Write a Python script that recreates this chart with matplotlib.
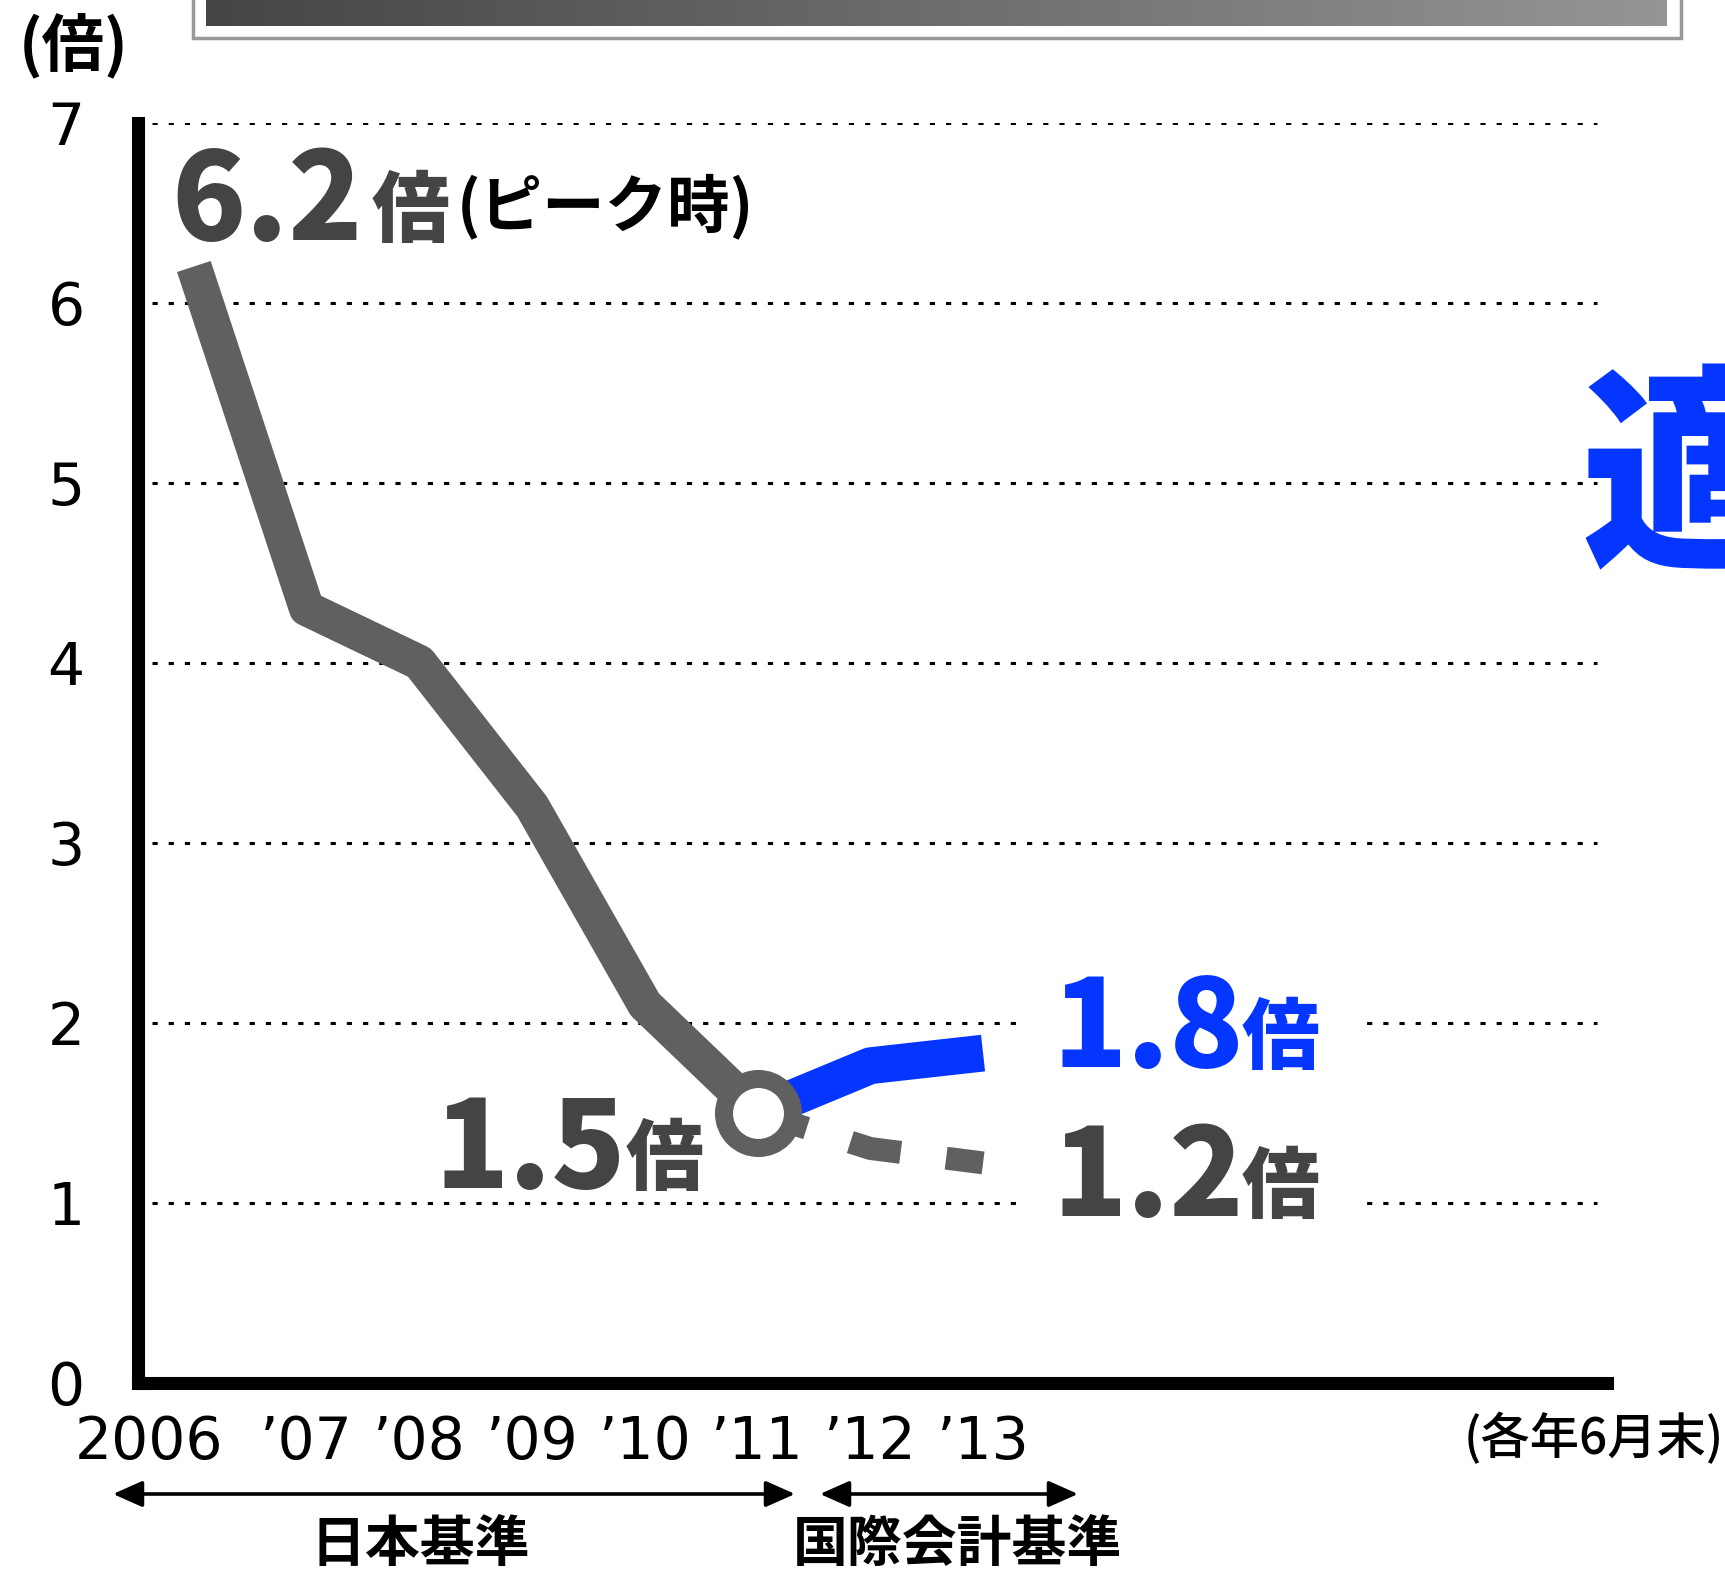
import numpy as np
import matplotlib
matplotlib.use("Agg")
import matplotlib.pyplot as plt
from matplotlib.patches import Rectangle, FancyArrowPatch
from matplotlib.colors import LinearSegmentedColormap

plt.rcParams['font.family'] = ['Noto Sans CJK JP', 'DejaVu Sans']

# data
years = ['2006', '’07', '’08', '’09', '’10', '’11', '’12', '’13']
jp_x = [0, 1, 2, 3, 4, 5]
jp_vals = [6.2, 4.3, 4.0, 3.2, 2.1, 1.5]          # 日本基準
ifrs_x = [5, 6, 7]
ifrs_vals = [1.5, 1.76, 1.83]                       # 国際会計基準
jp_cont_vals = [1.5, 1.3, 1.22]                     # 日本基準で続けた場合
yticks = [0, 1, 2, 3, 4, 5, 6, 7]

GRAY = '#606060'
DARK = '#444444'
BLUE = '#0536FF'

W, H = 1725, 1575
fig = plt.figure(figsize=(W / 100, H / 100), dpi=100)

def fx(px):
    return px / W

def fy(py):
    return 1 - py / H

ax = fig.add_axes([fx(137.5), fy(1382.5), (1606.5 - 137.5) / W, (1382.5 - 122.5) / H])
ax.set_xlim(-0.5, 12.53)
ax.set_ylim(0, 7)

for side in ['top', 'right']:
    ax.spines[side].set_visible(False)
for side in ['left', 'bottom']:
    ax.spines[side].set_linewidth(9.4)
    ax.spines[side].set_color('black')
    ax.spines[side].set_capstyle('projecting')

# dotted grid
ax.hlines(yticks[1:], -0.375, 12.45, colors='black', linewidth=2.2,
          linestyles=[(0, (1.7, 3.6))], zorder=1)
# gap in the grid behind the end labels
ax.add_patch(Rectangle((7.35, 0.85), 3.03, 1.3, facecolor='white',
                       edgecolor='none', zorder=1.5))

# lines
ax.plot(jp_x, jp_vals, color=GRAY, lw=25.5, solid_joinstyle='round',
        solid_capstyle='butt', zorder=3)
ax.plot(ifrs_x, jp_cont_vals, color=GRAY, lw=16.5, linestyle=(0, (2.25, 2.0)),
        dash_capstyle='butt', zorder=3)
ax.plot(ifrs_x, ifrs_vals, color=BLUE, lw=26.5, solid_joinstyle='round',
        solid_capstyle='butt', zorder=4)
ax.plot([jp_x[-1]], [jp_vals[-1]], marker='o', ms=49.7, mew=13,
        mfc='white', mec=GRAY, zorder=5)

# ticks
label_x = [-0.395, 1, 2, 3, 4, 5, 6, 7]
ax.set_xticks(label_x, years)
ax.set_yticks(yticks, [str(v) for v in yticks])
ax.tick_params(axis='x', length=0, pad=23, labelsize=42)
ax.tick_params(axis='y', length=0, pad=51.5, labelsize=42)
for lbl in ax.get_xticklabels() + ax.get_yticklabels():
    lbl.set_fontfamily('DejaVu Sans')
for lbl in ax.get_yticklabels():
    lbl.set_horizontalalignment('center')

# value labels
num_kw = dict(fontsize=88, fontweight='heavy', va='baseline', ha='left')
bai_kw = dict(fontsize=56, fontweight='heavy', va='baseline', ha='left')
fig.text(fx(171), fy(240), f'{jp_vals[0]:.1f}', color=DARK, **num_kw)
fig.text(fx(372), fy(236), '倍', color=DARK, **bai_kw)
fig.text(fx(457), fy(226), '(ピーク時)', fontsize=45, fontweight='bold',
         color='black', va='baseline', ha='left')

fig.text(fx(434), fy(1188), f'{jp_vals[-1]:.1f}', color=DARK, **num_kw)
fig.text(fx(626), fy(1184), '倍', color=DARK, **bai_kw)

fig.text(fx(1052), fy(1067), f'{ifrs_vals[-1]:.1f}', color=BLUE, **num_kw)
fig.text(fx(1242), fy(1063), '倍', color=BLUE, **bai_kw)

fig.text(fx(1052), fy(1216), f'{jp_cont_vals[-1]:.1f}', color=DARK, **num_kw)
fig.text(fx(1242), fy(1212), '倍', color=DARK, **bai_kw)

# unit labels
fig.text(fx(74), fy(45), '(倍)', fontsize=45, fontweight='bold',
         ha='center', va='center')
fig.text(fx(1594), fy(1439), '(各年6月末)', fontsize=35.5, fontweight='medium',
         ha='center', va='center')

# standard spans
for x0, x1 in [(113, 795), (820, 1078)]:
    fig.patches.append(FancyArrowPatch(
        (fx(x0), fy(1494)), (fx(x1), fy(1494)), transform=fig.transFigure,
        arrowstyle='<|-|>,head_length=18,head_width=8', mutation_scale=1,
        lw=2.6, color='black', shrinkA=0, shrinkB=0))
fig.text(fx(420), fy(1545), '日本基準', fontsize=39.5, fontweight='bold',
         ha='center', va='center')
fig.text(fx(957), fy(1545), '国際会計基準', fontsize=39.5, fontweight='bold',
         ha='center', va='center')

# big heading glyph cut off at the right edge
fig.text(fx(1580), fy(486), '適', fontsize=158, fontweight='heavy',
         color=BLUE, ha='left', va='center')

# banner cut off at the top
fig.patches.append(Rectangle((fx(193), fy(38)), (1681 - 193) / W, 60 / H,
                             transform=fig.transFigure, facecolor='white',
                             edgecolor='#999999', lw=2.5, zorder=-1))
bax = fig.add_axes([fx(206), fy(26), (1667 - 206) / W, 40 / H])
grad = np.linspace(0, 1, 256).reshape(1, -1)
bax.imshow(grad, aspect='auto',
           cmap=LinearSegmentedColormap.from_list('banner', ['#454545', '#959595']))
bax.axis('off')

fig.savefig('out.png', dpi=100)
